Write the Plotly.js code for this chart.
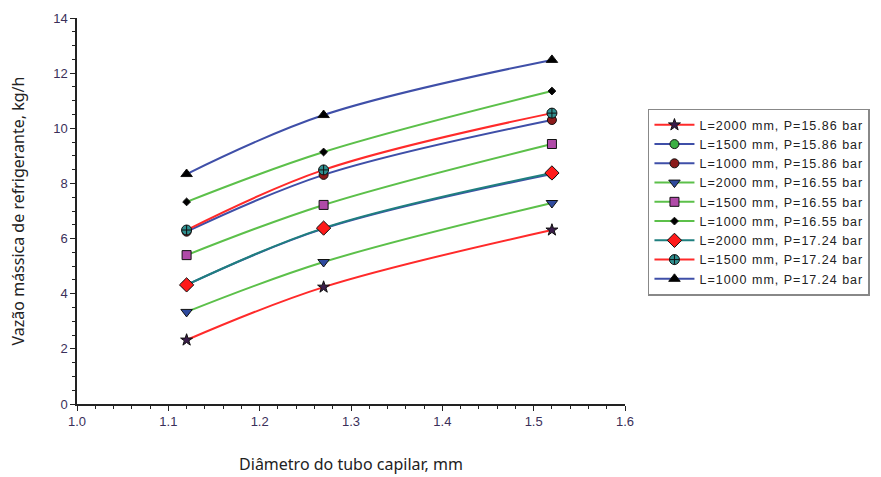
<!DOCTYPE html>
<html>
<head>
<meta charset="utf-8">
<script src="https://cdn.plot.ly/plotly-3.0.1.min.js"></script>
<style>html,body{margin:0;padding:0;background:#fff;}#chart{width:881px;height:477px;}
.legendtext{letter-spacing:1px;}</style>
</head>
<body>
<div id="chart"></div>
<script>
const diameters = [1.12, 1.27, 1.52];

const seriesNames = [
  "L=2000 mm, P=15.86 bar",
  "L=1500 mm, P=15.86 bar",
  "L=1000 mm, P=15.86 bar",
  "L=2000 mm, P=16.55 bar",
  "L=1500 mm, P=16.55 bar",
  "L=1000 mm, P=16.55 bar",
  "L=2000 mm, P=17.24 bar",
  "L=1500 mm, P=17.24 bar",
  "L=1000 mm, P=17.24 bar"
];

const L2000_P1586 = [2.32, 4.24, 6.31];
const L1500_P1586 = [4.32, 6.36, 8.34];
const L1000_P1586 = [6.25, 8.31, 10.30];
const L2000_P1655 = [3.34, 5.15, 7.29];
const L1500_P1655 = [5.40, 7.22, 9.43];
const L1000_P1655 = [7.33, 9.14, 11.35];
const L2000_P1724 = [4.32, 6.38, 8.38];
const L1500_P1724 = [6.31, 8.49, 10.55];
const L1000_P1724 = [8.34, 10.48, 12.48];

const seriesValues = [L2000_P1586, L1500_P1586, L1000_P1586, L2000_P1655, L1500_P1655, L1000_P1655, L2000_P1724, L1500_P1724, L1000_P1724];

const styles = [
  {line: "#ff2a2a", symbol: "star", fill: "#3a1d4a", size: 9},
  {line: "#3f4fa8", symbol: "circle", fill: "#3cb043", size: 9},
  {line: "#3f4fa8", symbol: "circle", fill: "#8b1a1a", size: 9},
  {line: "#5cc04a", symbol: "triangle-down", fill: "#2f4a9e", size: 10},
  {line: "#5cc04a", symbol: "square", fill: "#b04aa8", size: 9},
  {line: "#5cc04a", symbol: "diamond", fill: "#000000", size: 6},
  {line: "#1f7f7f", symbol: "diamond", fill: "#ff1a1a", size: 11},
  {line: "#ff2a2a", symbol: "circle-cross", fill: "#2f8f8f", size: 10},
  {line: "#3f4fa8", symbol: "triangle-up", fill: "#000000", size: 10}
];

const traces = seriesNames.map((name, i) => ({
  x: diameters,
  y: seriesValues[i],
  name: name,
  type: "scatter",
  mode: "lines+markers",
  line: {color: styles[i].line, width: 2, shape: "spline", smoothing: 1},
  marker: {symbol: styles[i].symbol, color: styles[i].fill, size: styles[i].size, line: {color: "#111", width: 1}}
}));

const layout = {
  width: 881, height: 477,
  margin: {l: 77, r: 255, t: 18, b: 73},
  paper_bgcolor: "#fff", plot_bgcolor: "#fff",
  font: {family: "Liberation Sans, Arial, sans-serif", color: "#333"},
  xaxis: {
    range: [1.0, 1.6], dtick: 0.1, tickformat: ".1f",
    showgrid: false, zeroline: false,
    showline: true, linecolor: "#222", linewidth: 1.5, mirror: false,
    ticks: "outside", ticklen: 5, tickcolor: "#222",
    minor: {dtick: 0.02, ticks: "outside", ticklen: 3, tickcolor: "#222"},
    tickfont: {size: 13, color: "#3a2f5a"},
    title: {text: "Diâmetro do tubo capilar, mm", font: {family: "Noto Sans, sans-serif", size: 16, color: "#222"}, standoff: 30}
  },
  yaxis: {
    range: [0, 14], dtick: 2,
    showgrid: false, zeroline: false,
    showline: true, linecolor: "#222", linewidth: 1.5, mirror: false,
    ticks: "outside", ticklen: 5, tickcolor: "#222",
    minor: {dtick: 0.5, ticks: "outside", ticklen: 3, tickcolor: "#222"},
    tickfont: {size: 13, color: "#3a2f5a"},
    title: {text: "Vazão mássica de refrigerante, kg/h", font: {family: "Noto Sans, sans-serif", size: 16, color: "#222"}, standoff: 25}
  },
  showlegend: true,
  legend: {
    x: 1.04, y: 0.765, xanchor: "left", yanchor: "top",
    bordercolor: "#888", borderwidth: 1.5,
    font: {size: 12.5, color: "#222"},
    tracegroupgap: 0, itemwidth: 40
  }
};

Plotly.newPlot("chart", traces, layout, {displayModeBar: false});
</script>
</body>
</html>
